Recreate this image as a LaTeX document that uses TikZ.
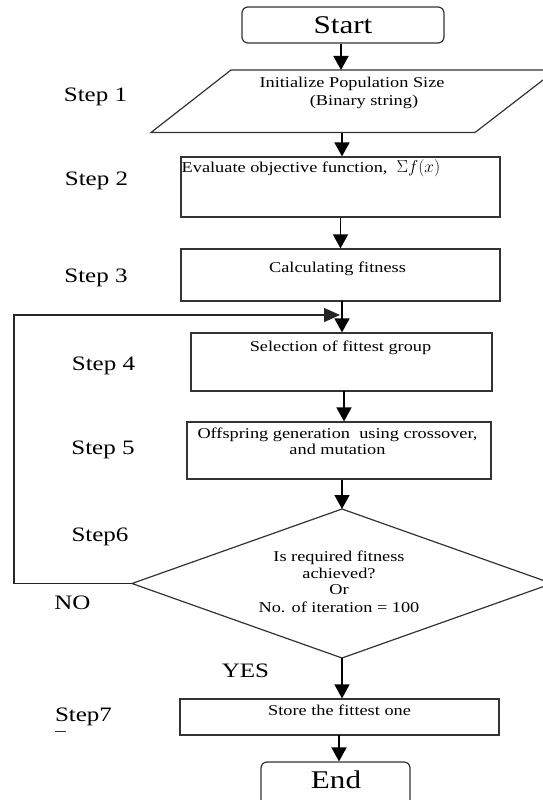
\documentclass[tikz,border=0pt]{standalone}
\usepackage{fontspec}
\setmainfont{Liberation Serif}[FakeStretch=1.22]
\usetikzlibrary{arrows.meta}
\begin{document}
\begin{tikzpicture}[x=1pt,y=-1pt,
  box/.style={draw=black!80, line width=1.2pt, inner sep=0pt},
  ln/.style={draw=black!80, line width=1.2pt},
  arr/.style={draw=black, line width=1.6pt, -{Triangle[length=14pt,width=15pt]}},
  harr/.style={draw=black!85, line width=1.3pt, -{Triangle[length=16pt,width=14pt]}},
  small/.style={inner sep=0pt, font=\fontsize{15}{18}\selectfont, text height=10pt, text depth=0pt},
  steplbl/.style={inner sep=0pt, font=\fontsize{20.5}{24}\selectfont, text height=13.6pt, text depth=0pt},
  big/.style={inner sep=0pt, font=\fontsize{25.5}{30}\selectfont, text height=17pt, text depth=0pt}]
\useasboundingbox (0,0) rectangle (542,800);

% Start
\node[box, rounded corners=6pt, minimum width=202pt, minimum height=36pt] (start) at (343,25) {};
\node[big] (starttxt) at (343,25) {Start};

% Parallelogram (Step 1)
\coordinate (pA) at (231,70);
\coordinate (pB) at (556,70);
\coordinate (pC) at (475,132.5);
\coordinate (pD) at (151,132.5);
\draw[ln] (pA) -- (pB) -- (pC) -- (pD) -- cycle;
\coordinate (paraN) at (341,70);
\coordinate (paraS) at (342,132.5);
\node[small] (ptxt1) at (352,82) {Initialize Population Size};
\node[small] (ptxt2) at (364,100) {(Binary string)};

% Step 2 box
\node[box, minimum width=319pt, minimum height=60pt] (b2) at (340.5,187) {};
\node[small, anchor=west] (t2) at (181.5,167) {Evaluate objective function,~ {\fontsize{18}{20}\selectfont$\Sigma f(x)$}};

% Step 3 box
\node[box, minimum width=319pt, minimum height=52pt] (b3) at (340.5,275) {};
\node[small] (t3) at (337.5,267) {Calculating fitness};

% Step 4 box
\node[box, minimum width=301pt, minimum height=58pt] (b4) at (341.5,362) {};
\node[small] (t4) at (340.5,346) {Selection of fittest group};

% Step 5 box
\node[box, minimum width=304pt, minimum height=57pt] (b5) at (339,450.5) {};
\node[small] (t5a) at (337.5,433) {Offspring generation~ using crossover,};
\node[small] (t5b) at (337.5,449.5) {and mutation};

% Decision diamond
\coordinate (dT) at (342,509);
\coordinate (dR) at (552,583.5);
\coordinate (dB) at (342,658);
\coordinate (dL) at (132,583.5);
\draw[ln] (dT) -- (dR) -- (dB) -- (dL) -- cycle;
\node[small] (d1) at (339,556) {Is required fitness};
\node[small] (d2) at (339,573) {achieved?};
\node[small] (d3) at (339,589.5) {Or};
\node[small] (d4) at (339,607) {No. of iteration = 100};

% Step 7 box
\node[box, minimum width=319pt, minimum height=36pt] (b7) at (339.5,717) {};
\node[small] (t7) at (339.5,710) {Store the fittest one};

% End
\node[box, rounded corners=6pt, minimum width=149pt, minimum height=53pt] (endb) at (335.5,788.5) {};
\node[big] (endtxt) at (336,780) {End};

% Step labels
\node[steplbl] (s1) at (95.5,95) {Step 1};
\node[steplbl] (s2) at (96.5,179) {Step 2};
\node[steplbl] (s3) at (96,276) {Step 3};
\node[steplbl] (s4) at (103.5,364) {Step 4};
\node[steplbl] (s5) at (103,448) {Step 5};
\node[steplbl] (s6) at (100,535) {Step6};
\node[steplbl] (no) at (72.5,603) {NO};
\node[steplbl] (yes) at (245.5,671) {YES};
\node[steplbl] (s7) at (83.5,715) {Step7};
\draw[line width=1pt, black!80] (55,731) -- (66,731);

% Arrows
\draw[arr] (start.south -| paraN) -- (paraN);
\draw[arr] (paraS) -- (paraS |- b2.north);
\draw[arr] (b2.south) -- (b2.south |- b3.north);
\coordinate (a4) at (342,301);
\draw[arr] (a4) -- (a4 |- b4.north);
\coordinate (a5) at (344,391);
\draw[arr] (a5) -- (a5 |- b5.north);
\draw[arr] (dT |- b5.south) -- (dT);
\draw[arr] (dB) -- (dB |- b7.north);
\coordinate (a8) at (339,735);
\draw[arr] (a8) -- (a8 |- endb.north);

% Loop back (NO)
\coordinate (lp1) at (14,583.5);
\coordinate (lp2) at (14,315);
\coordinate (lp3) at (340,315);
\draw[harr] (dL) -- (lp1) -- (lp2) -- (lp3);
\end{tikzpicture}
\end{document}
